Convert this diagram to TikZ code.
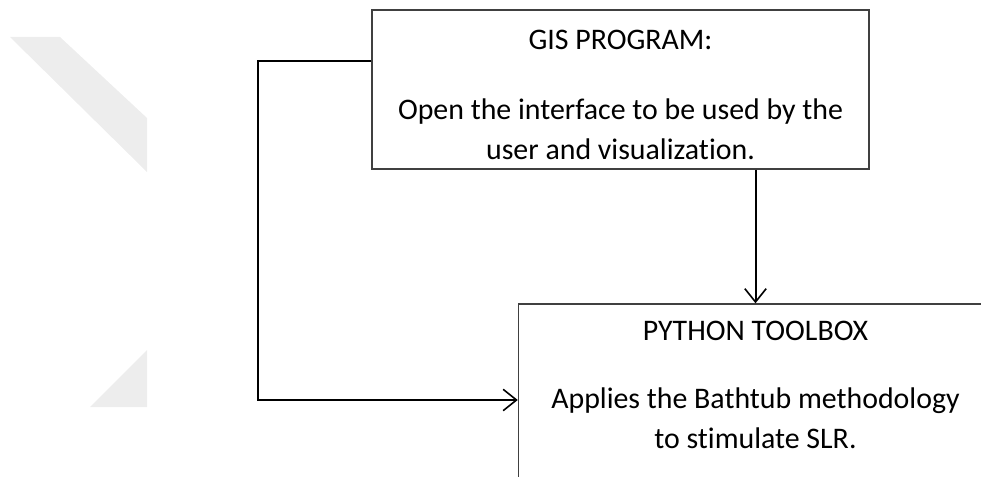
\documentclass[tikz,border=0pt]{standalone}
\usepackage{fontspec}
\setmainfont{Carlito}[Ligatures=CommonOff]
\usetikzlibrary{arrows.meta}

\begin{document}
\begin{tikzpicture}[x=0.75pt, y=-0.75pt,
		>={Straight Barb[length=10pt, width=16pt, line width=1.2pt]},
		box/.style={draw=black!75, line width=1.1pt, inner sep=0pt},
		boxtext/.style={align=center, inner sep=0pt, anchor=north, font=\fontsize{22.4}{30}\selectfont},
		link/.style={line width=1.5pt, ->}]
		
		\useasboundingbox (0,0) rectangle (981,477);
		\clip (0,0) rectangle (981,477);
		
		% faint stripes on the left
		\fill[black!7] (10,37) -- (60,37) -- (147,118) -- (147,172) -- cycle;
		\fill[black!7] (147,350) -- (90,407) -- (147,407) -- cycle;
		
		% upper box: GIS program
		\node[box, minimum width=372.75pt, minimum height=119.25pt] (gis) at (620.5,89.5) {};
		\node[boxtext] (gistext) at ([yshift=-15.5pt]gis.north)
			{GIS PROGRAM:\\[22.5pt]Open the interface to be used by the\\user and visualization.};
		
		% lower box: python toolbox (runs off the page)
		\node[box, minimum width=355.5pt, minimum height=144pt] (toolbox) at (755.5,400) {};
		\node[boxtext] (tooltext) at ([yshift=-13.5pt]toolbox.north)
			{PYTHON TOOLBOX\\[21pt]Applies the Bathtub methodology\\to stimulate SLR.};
		
		% connectors
		\coordinate (bend) at (258,400);
		\draw[link] (gis.south -| toolbox.north) -- (toolbox.north);
		\draw[link] ([yshift=21pt]gis.west) -| (bend) -- (toolbox.west);
		
	\end{tikzpicture}
\end{document}
